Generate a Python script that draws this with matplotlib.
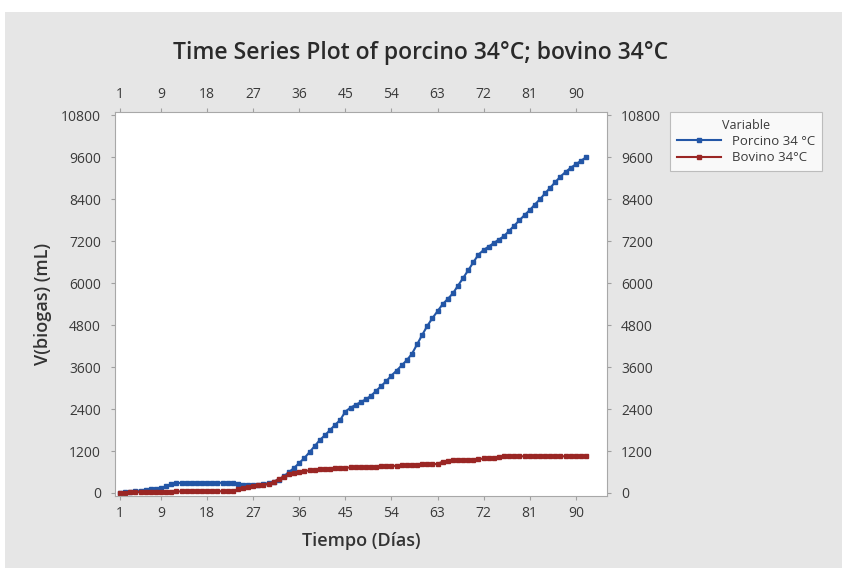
import numpy as np
import matplotlib
matplotlib.use('Agg')
import matplotlib.pyplot as plt
from matplotlib.patches import Rectangle

plt.rcParams['font.family'] = ['Open Sans', 'DejaVu Sans']

# Data (day index 1..92)
dias = np.arange(1, 93)
porcino = [0, 20, 40, 55, 70, 85, 100, 120, 140, 190,
           250, 280, 290, 290, 290, 290, 290, 290, 290, 290,
           290, 290, 290, 270, 240, 220, 220, 240, 260, 280,
           320, 380, 480, 600, 720, 860, 1000, 1170, 1340, 1515,
           1650, 1800, 1950, 2090, 2330, 2440, 2520, 2600, 2680, 2780,
           2920, 3060, 3200, 3360, 3500, 3650, 3800, 3980, 4250, 4520,
           4780, 5000, 5200, 5400, 5550, 5710, 5930, 6150, 6370, 6600,
           6820, 6950, 7050, 7150, 7250, 7350, 7500, 7650, 7800, 7950,
           8090, 8250, 8400, 8570, 8730, 8890, 9050, 9180, 9300, 9400,
           9500, 9600]
bovino = [0, 10, 20, 25, 30, 30, 35, 35, 40, 40,
          40, 45, 45, 45, 45, 50, 50, 50, 50, 50,
          50, 50, 55, 100, 150, 180, 200, 215, 230, 260,
          320, 400, 470, 530, 570, 600, 625, 645, 660, 675,
          690, 700, 705, 715, 720, 730, 735, 740, 745, 750,
          755, 760, 765, 770, 780, 790, 800, 805, 810, 815,
          820, 825, 830, 900, 920, 930, 940, 945, 950, 955,
          960, 990, 1000, 1010, 1030, 1045, 1050, 1050, 1050, 1050,
          1050, 1050, 1050, 1050, 1050, 1050, 1050, 1050, 1050, 1050,
          1050, 1050]

x_ticks = [1, 9, 18, 27, 36, 45, 54, 63, 72, 81, 90]
y_ticks = np.arange(0, 10801, 1200)

fig = plt.figure(figsize=(8.42, 5.68), dpi=100)
fig.patch.set_facecolor('white')
fig.patches.append(Rectangle((5 / 842, 0), 1, 1 - 12 / 568, transform=fig.transFigure,
                             facecolor='#e6e6e6', edgecolor='none', zorder=-10))

ax = fig.add_axes([115 / 842, 1 - 496 / 568, 492 / 842, 384 / 568])
ax.set_facecolor('white')

ax.plot(dias, porcino, color='#2356a6', marker='s', markersize=3.4, linewidth=1.5,
        label='Porcino 34 °C')
ax.plot(dias, bovino, color='#9a2624', marker='s', markersize=3.4, linewidth=1.5,
        label='Bovino 34°C')

ax.set_xlim(0.0, 96.1)
ax.set_ylim(-86, 10897)
ax.set_xticks(x_ticks)
ax.set_yticks(y_ticks)
ax.tick_params(axis='both', which='both', direction='out', length=3, color='#a0a0a0',
               labelsize=10, labelcolor='#3a3a3a', top=True, labeltop=True,
               right=True, labelright=True)
ax.tick_params(axis='x', pad=4)
ax.tick_params(axis='y', pad=7)
for s in ax.spines.values():
    s.set_color('#a8a8a8')
    s.set_linewidth(0.8)

ax.set_xlabel('Tiempo (Días)', fontsize=13, fontweight='semibold', color='#333333')
ax.set_ylabel('V(biogas) (mL)', fontsize=13, fontweight='semibold', color='#333333')
ax.xaxis.set_label_coords(0.5, -0.093)
ax.yaxis.set_label_coords(-0.128, 0.5)

fig.text(0.5, 1 - 53 / 568, 'Time Series Plot of porcino 34°C; bovino 34°C',
         ha='center', va='center', fontsize=16.5, fontweight='semibold', color='#2a2a2a')

leg = fig.legend(loc='upper left', bbox_to_anchor=(670 / 842, 1 - 112 / 568),
                 borderaxespad=0, title='Variable', fontsize=9.5, title_fontsize=9,
                 frameon=True, fancybox=False, edgecolor='#b0b0b0', handlelength=3.4,
                 borderpad=0.5, labelspacing=0.25, handletextpad=0.8)
leg.get_frame().set_linewidth(0.8)
leg.get_title().set_color('#3a3a3a')
for t in leg.get_texts():
    t.set_color('#3a3a3a')

fig.savefig('out.png', dpi=100)
